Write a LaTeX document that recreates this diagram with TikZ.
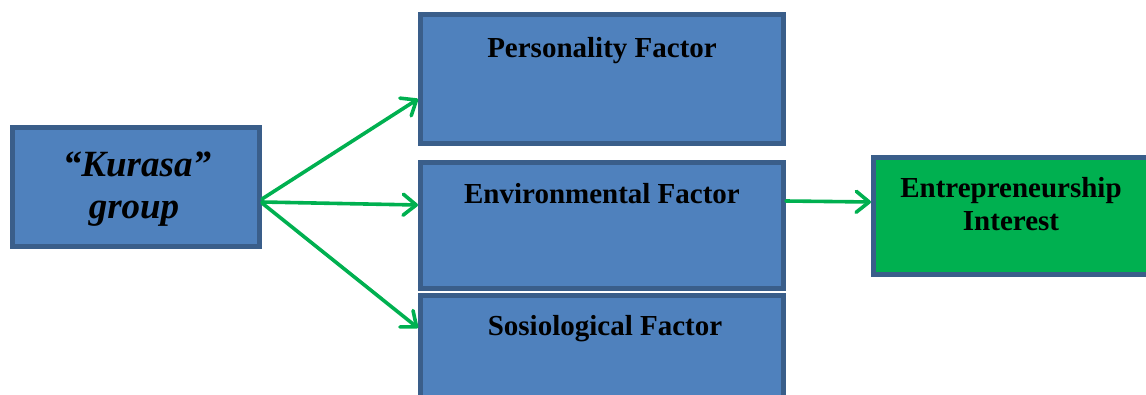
\documentclass[tikz,border=0pt]{standalone}
\usepackage{fontspec}
\setmainfont{Liberation Serif}
\usetikzlibrary{arrows.meta}
\definecolor{boxblue}{HTML}{4F81BD}
\definecolor{boxedge}{HTML}{3A5E8A}
\definecolor{boxgreen}{HTML}{00B050}
\definecolor{arrgreen}{HTML}{00B050}
\tikzset{
  factorbox/.style={draw=boxedge, line width=5pt, fill=boxblue, inner sep=0pt},
  greenbox/.style={draw=boxedge, line width=5pt, fill=boxgreen, inner sep=0pt},
  factortext/.style={anchor=base, inner sep=0pt, font=\fontsize{29}{33}\selectfont\bfseries},
  kurtext/.style={anchor=base, inner sep=0pt, font=\fontsize{37}{42}\selectfont\bfseries\itshape},
  arr/.style={draw=arrgreen, line width=3.6pt, line cap=round, -{Straight Barb[length=13pt,width=21pt,line cap=round,line join=round]}}
}
\begin{document}
\begin{tikzpicture}[x=1pt,y=-1pt]
\useasboundingbox (0,0) rectangle (1146,394);
\clip (0,0) rectangle (1146,394);
% boxes
\node[factorbox, minimum width=247pt, minimum height=119pt] (k) at (136,187) {};
\node[factorbox, minimum width=363pt, minimum height=129pt] (p) at (602,79) {};
\node[factorbox, minimum width=363pt, minimum height=126pt] (e) at (602,225.5) {};
\node[factorbox, minimum width=363pt, minimum height=122pt] (s) at (602,356.5) {};
\node[greenbox, minimum width=275pt, minimum height=117pt] (g) at (1011,216) {};
% texts
\node[kurtext] (k1) at (137,176) {“Kurasa”};
\node[kurtext] (k2) at (134,218) {group};
\node[factortext] (pt) at (602,57) {Personality Factor};
\node[factortext] (et) at (602,203) {Environmental Factor};
\node[factortext] (st) at (605,335) {Sosiological Factor};
\node[factortext] (g1) at (1011,197) {Entrepreneurship};
\node[factortext] (g2) at (1011,230) {Interest};
% arrows
\draw[arr] ([yshift=-12pt]k.east) -- ([yshift=-20pt]p.west);
\draw[arr] ([yshift=-15pt]k.east) -- ([yshift=20.5pt]e.west);
\draw[arr] ([yshift=-16pt]k.east) -- ([yshift=28.5pt]s.west);
\draw[arr] ([yshift=24.5pt]e.east) -- ([yshift=14pt]g.west);
\end{tikzpicture}
\end{document}
